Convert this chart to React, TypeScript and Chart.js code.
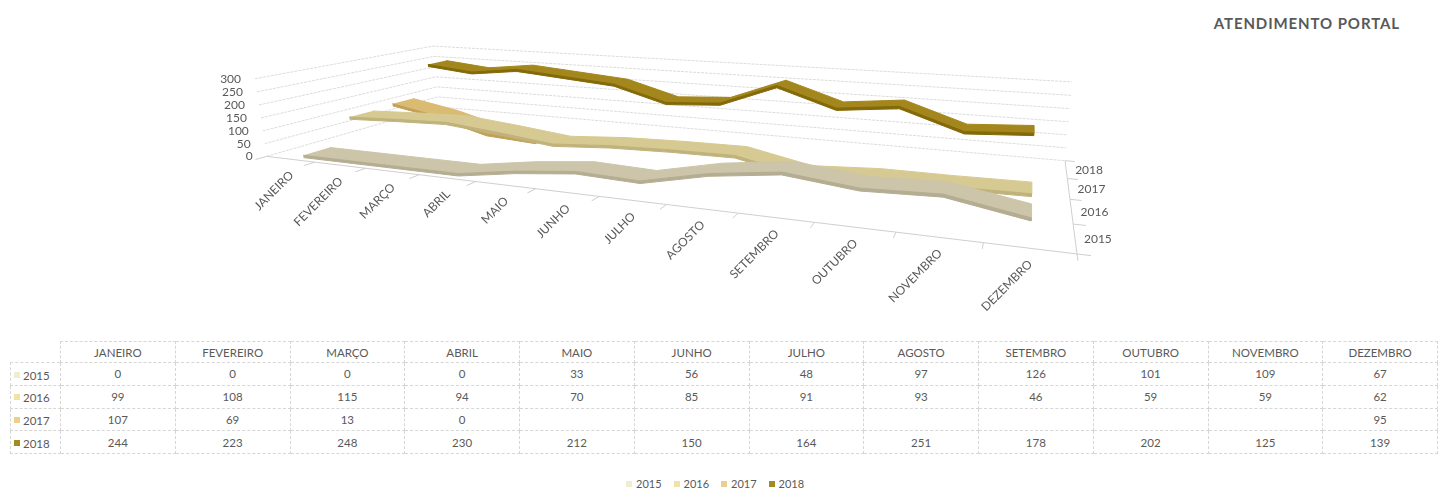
import React, { useEffect, useRef } from 'react';
import { Chart, registerables } from 'chart.js';

Chart.register(...registerables);

// ---------- data ----------
const categories = ['JANEIRO', 'FEVEREIRO', 'MARÇO', 'ABRIL', 'MAIO', 'JUNHO', 'JULHO', 'AGOSTO', 'SETEMBRO', 'OUTUBRO', 'NOVEMBRO', 'DEZEMBRO'];
const seriesNames = ['2015', '2016', '2017', '2018'];
const values2015: (number | null)[] = [0, 0, 0, 0, 33, 56, 48, 97, 126, 101, 109, 67];
const values2016: (number | null)[] = [99, 108, 115, 94, 70, 85, 91, 93, 46, 59, 59, 62];
const values2017: (number | null)[] = [107, 69, 13, 0, null, null, null, null, null, null, null, 95];
const values2018: (number | null)[] = [244, 223, 248, 230, 212, 150, 164, 251, 178, 202, 125, 139];
const valueTicks = [0, 50, 100, 150, 200, 250, 300];
const valueMax = 300;
const chartTitle = 'ATENDIMENTO PORTAL';

// ---------- styles ----------
const ribbonFill = ['#ccc5aa', '#d6ca92', '#d9bb72', '#a3861c'];
const ribbonSide = ['#b5ad92', '#bfb27a', '#c29f55', '#846908'];
const markerColors = ['#eeeed4', '#f1e2a6', '#eccf8a', '#a38b24'];
const textColor = '#595959';
const gridColor = '#dcdcdc';
const axisColor = '#cfcfcf';

// ---------- 3D frame geometry (s: month fraction, v: value fraction, t: depth fraction) ----------
const W = 1438;
const H = 335;
const CX = 700, CY = 160, SC = 400;
const calibration: Array<[[number, number, number], [number, number]]> = [
  [[0, 0, 0], [267, 157]],
  [[0, 1, 0], [255, 79]],
  [[1, 0, 0], [1078, 253]],
  [[1, 0, 1], [1065, 161]],
  [[1, 1, 1], [1072, 83]],
  [[0, 1, 1], [433, 45]],
  [[1 / 12, 0, 0], [315, 162.7]],
  [[4 / 12, 0, 0], [475, 181.6]],
  [[8 / 12, 0, 0], [738, 212.8]],
  [[11 / 12, 0, 0], [983, 241.8]],
];
const ribbonHalfDepth = 0.065;
const ribbonThickness = 0.03;

function solveProjection(): number[] {
  const N = 11;
  const M: number[][] = Array.from({ length: N }, () => new Array(N + 1).fill(0));
  const addRow = (row: number[], rhs: number) => {
    for (let i = 0; i < N; i++) {
      for (let j = 0; j < N; j++) M[i][j] += row[i] * row[j];
      M[i][N] += row[i] * rhs;
    }
  };
  for (const [[X, Y, Z], [px, py]] of calibration) {
    const u = (px - CX) / SC;
    const w = (py - CY) / SC;
    addRow([X, Y, Z, 1, 0, 0, 0, 0, -u * X, -u * Y, -u * Z], u);
    addRow([0, 0, 0, 0, X, Y, Z, 1, -w * X, -w * Y, -w * Z], w);
  }
  for (let c = 0; c < N; c++) {
    let piv = c;
    for (let r = c + 1; r < N; r++) if (Math.abs(M[r][c]) > Math.abs(M[piv][c])) piv = r;
    const tmp = M[c]; M[c] = M[piv]; M[piv] = tmp;
    for (let r = 0; r < N; r++) {
      if (r === c) continue;
      const f = M[r][c] / M[c][c];
      for (let k = c; k <= N; k++) M[r][k] -= f * M[c][k];
    }
  }
  return M.map((row, i) => row[N] / row[i]);
}

const P = solveProjection();
function proj(s: number, v: number, t: number): { x: number; y: number } {
  const den = P[8] * s + P[9] * v + P[10] * t + 1;
  const u = (P[0] * s + P[1] * v + P[2] * t + P[3]) / den;
  const w = (P[4] * s + P[5] * v + P[6] * t + P[7]) / den;
  return { x: u * SC + CX, y: w * SC + CY };
}

function buildDatasets() {
  const datasets: any[] = [];
  const seriesValues = [values2015, values2016, values2017, values2018];
  seriesValues.forEach((vals, k) => {
    const t = (k + 0.5) / seriesNames.length;
    const runs: number[][] = [];
    let run: number[] = [];
    vals.forEach((v, i) => {
      if (v === null) { if (run.length) runs.push(run); run = []; } else run.push(i);
    });
    if (run.length) runs.push(run);
    const sOf = (i: number) => (i + 0.5) / categories.length;
    const vOf = (i: number) => (vals[i] as number) / valueMax;
    runs.filter(r => r.length > 1).forEach(r => {
      const rev = r.slice().reverse();
      // top surface of the ribbon
      const front = r.map(i => proj(sOf(i), vOf(i), t - ribbonHalfDepth));
      const back = rev.map(i => proj(sOf(i), vOf(i), t + ribbonHalfDepth));
      datasets.push({
        label: seriesNames[k],
        data: [...front, ...back],
        fill: 'shape',
        backgroundColor: ribbonFill[k],
        borderColor: ribbonFill[k],
        borderWidth: 1,
        pointRadius: 0,
        tension: 0,
        order: 2 + 2 * k,
      });
      // front side of the ribbon
      const lower = rev.map(i => proj(sOf(i), vOf(i) - ribbonThickness, t - ribbonHalfDepth));
      datasets.push({
        label: seriesNames[k] + ' side',
        data: [...front, ...lower],
        fill: 'shape',
        backgroundColor: ribbonSide[k],
        borderColor: ribbonSide[k],
        borderWidth: 1,
        pointRadius: 0,
        tension: 0,
        order: 1 + 2 * k,
      });
    });
  });
  // walls gridlines
  valueTicks.forEach(v => {
    const f = v / valueMax;
    datasets.push({
      data: [proj(0, f, 0), proj(0, f, 1), proj(1, f, 1)],
      borderColor: gridColor, borderWidth: 1, pointRadius: 0, fill: false, order: 30, borderDash: [3, 1],
    });
  });
  // floor front edge & depth axis
  datasets.push({ data: [proj(0, 0, 0), proj(1, 0, 0), proj(1, 0, 1)], borderColor: axisColor, borderWidth: 1, pointRadius: 0, fill: false, order: 29 });
  // ticks
  const tickPts: any[] = [];
  for (let i = 0; i <= categories.length; i++) {
    const a = proj(i / categories.length, 0, 0);
    const b = proj(i / categories.length, 0, -0.05);
    tickPts.push(a, b, { x: b.x, y: null });
  }
  for (let k = 0; k <= seriesNames.length; k++) {
    const a = proj(1, 0, k / seriesNames.length);
    const b = proj(1.012, 0, k / seriesNames.length);
    tickPts.push(a, b, { x: b.x, y: null });
  }
  datasets.push({ data: tickPts, borderColor: axisColor, borderWidth: 1, pointRadius: 0, fill: false, spanGaps: false, order: 29 });
  return datasets;
}

const labelsPlugin = {
  id: 'labels3d',
  afterDatasetsDraw(chart: any) {
    const ctx = chart.ctx;
    const xs = chart.scales.x;
    const ys = chart.scales.y;
    const px = (p: { x: number; y: number }) => [xs.getPixelForValue(p.x), ys.getPixelForValue(p.y)];
    ctx.save();
    ctx.fillStyle = textColor;
    ctx.font = '12px Lato';
    ctx.textBaseline = 'middle';
    ctx.textAlign = 'right';
    valueTicks.forEach(v => {
      const [x, y] = px(proj(0, v / valueMax, 0));
      ctx.fillText(String(v), x - 14, y);
    });
    categories.forEach((c, i) => {
      const [x, y] = px(proj((i + 0.5) / categories.length, 0, 0));
      ctx.save();
      ctx.translate(x + 1, y + 14);
      ctx.rotate(-Math.PI / 4);
      ctx.textAlign = 'right';
      ctx.fillText(c, 0, 0);
      ctx.restore();
    });
    ctx.textAlign = 'left';
    seriesNames.forEach((n, k) => {
      const [x, y] = px(proj(1, 0, (k + 0.5) / seriesNames.length));
      ctx.fillText(n, x + 9, y + 1);
    });
    ctx.restore();
  },
};

function ChartCanvas() {
  const ref = useRef<HTMLCanvasElement | null>(null);
  useEffect(() => {
    if (!ref.current) return;
    const chart = new Chart(ref.current, {
      type: 'line',
      data: { datasets: buildDatasets() },
      options: {
        animation: false,
        responsive: false,
        maintainAspectRatio: false,
        devicePixelRatio: 1,
        layout: { padding: 0 },
        plugins: { legend: { display: false }, tooltip: { enabled: false }, title: { display: false } },
        scales: {
          x: { type: 'linear', min: 0, max: W, display: false },
          y: { type: 'linear', min: 0, max: H, reverse: true, display: false },
        },
      } as any,
      plugins: [labelsPlugin],
    });
    return () => chart.destroy();
  }, []);
  return <canvas ref={ref} width={W} height={H} style={{ position: 'absolute', left: 0, top: 0, width: W, height: H }} />;
}

export default function App() {
  const seriesValues = [values2015, values2016, values2017, values2018];
  const cell: React.CSSProperties = {
    border: '1px dashed #d6d6d6', textAlign: 'center', padding: 0, fontWeight: 'normal', whiteSpace: 'nowrap',
  };
  const colW = (1427 - 50) / categories.length;
  return (
    <div style={{ position: 'fixed', left: 0, top: 0, width: 1438, height: 490, background: '#fff', overflow: 'hidden', fontFamily: 'Lato, sans-serif', color: textColor }}>
      <div style={{ position: 'absolute', left: 1000, width: 400, top: 14, textAlign: 'right', fontWeight: 'bold', fontSize: 15, letterSpacing: 0.9 }}>{chartTitle}</div>
      <ChartCanvas />
      <table style={{ position: 'absolute', left: 10, top: 341, borderCollapse: 'collapse', tableLayout: 'fixed', width: 1427, fontSize: 11.5, color: textColor }}>
        <colgroup>
          <col style={{ width: 50 }} />
          {categories.map(c => <col key={c} style={{ width: colW }} />)}
        </colgroup>
        <thead>
          <tr style={{ height: 21 }}>
            <th style={{ border: 'none' }}></th>
            {categories.map(c => <th key={c} style={cell}>{c}</th>)}
          </tr>
        </thead>
        <tbody>
          {seriesNames.map((n, k) => (
            <tr key={n} style={{ height: 22.75 }}>
              <td style={{ ...cell, textAlign: 'left', paddingLeft: 3 }}>
                <span style={{ display: 'inline-block', width: 6, height: 6, background: markerColors[k], marginRight: 3, verticalAlign: 'middle' }}></span>
                <span style={{ verticalAlign: 'middle' }}>{n}</span>
              </td>
              {seriesValues[k].map((v, i) => <td key={i} style={cell}>{v === null ? '' : v}</td>)}
            </tr>
          ))}
        </tbody>
      </table>
      <div style={{ position: 'absolute', left: 626, top: 477, display: 'flex', gap: 12, fontSize: 11, lineHeight: '14px' }}>
        {seriesNames.map((n, k) => (
          <div key={n} style={{ display: 'flex', alignItems: 'center' }}>
            <span style={{ display: 'inline-block', width: 6, height: 6, background: markerColors[k], marginRight: 4 }}></span>
            <span>{n}</span>
          </div>
        ))}
      </div>
    </div>
  );
}
